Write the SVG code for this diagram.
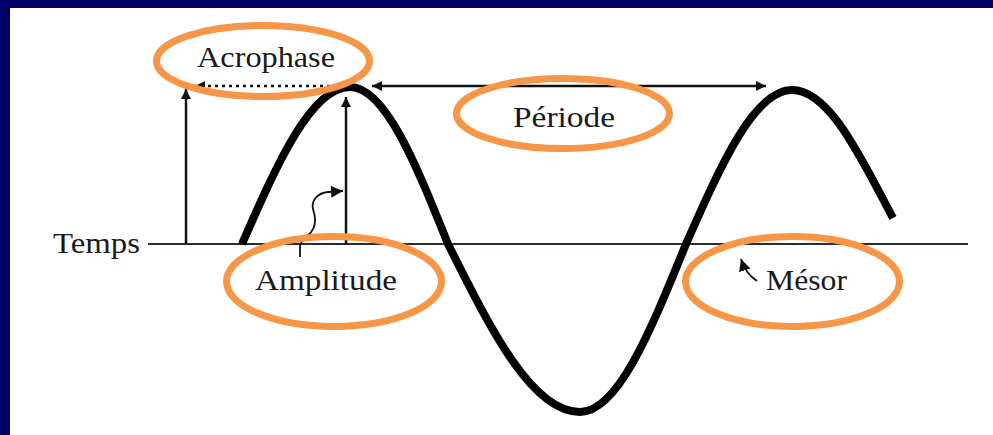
<svg xmlns="http://www.w3.org/2000/svg" width="993" height="435" viewBox="0 0 993 435">
<defs>
<style>
.lbl{font-family:"Liberation Serif","Times New Roman",serif;font-size:30px;fill:#1a1a1a}
.ring{fill:none;stroke:#F79646;stroke-width:7}
.ln{fill:none;stroke:#111;stroke-width:2.5}
.thin{fill:none;stroke:#111;stroke-width:1.8}
</style>
<marker id="ah" viewBox="0 0 10 10" refX="10" refY="5" markerWidth="10" markerHeight="10" markerUnits="userSpaceOnUse" orient="auto-start-reverse">
<path d="M0,0 L10,5 L0,10 Z" fill="#111"/>
</marker>
<marker id="ahs" viewBox="0 0 10 10" refX="10" refY="5" markerWidth="12" markerHeight="12" markerUnits="userSpaceOnUse" orient="auto">
<path d="M0,0 L10,5 L0,10 Z" fill="#111"/>
</marker>
</defs>
<rect x="0" y="0" width="993" height="435" fill="#fff"/>
<rect x="0" y="0" width="993" height="8" fill="#000066"/>
<rect x="0" y="0" width="10" height="435" fill="#000066"/>

<g id="temps">
<text class="lbl" x="53" y="253" textLength="87" lengthAdjust="spacingAndGlyphs">Temps</text>
<line x1="148" y1="244" x2="968" y2="244" stroke="#2a2a3a" stroke-width="2"/>
</g>

<g id="curve">
<path d="M242,244 C277,164 311,87 350,87 C385,87 416,164 448,244 C491,330 532,412 580,412 C618,412 651,330 686,244 C721,165 754,90 792,90 C830,90 862,160 893,218" fill="none" stroke="#000" stroke-width="8"/>
</g>

<g id="connectors">
<line class="ln" x1="186" y1="244" x2="186" y2="89" marker-end="url(#ah)"/>
<line class="ln" x1="346" y1="244" x2="346" y2="97" marker-end="url(#ah)"/>
<line x1="330" y1="86" x2="195" y2="86" stroke="#111" stroke-width="2.5" stroke-dasharray="3,4" marker-end="url(#ah)"/>
<line class="ln" x1="372" y1="86" x2="766" y2="86" marker-start="url(#ah)" marker-end="url(#ah)"/>
<path class="thin" d="M300,257 L300,246 C301,240 305,238 308,235 C317,228 316,218 313,209 C311,200 318,193 328,192 L343,191" marker-end="url(#ahs)"/>
<path class="thin" d="M757,281 C749,276 744,268 741,259" marker-end="url(#ahs)"/>
</g>

<g id="acrophase">
<ellipse class="ring" cx="263" cy="61" rx="106.5" ry="35.5"/>
<text class="lbl" x="197" y="67" textLength="138" lengthAdjust="spacingAndGlyphs">Acrophase</text>
</g>
<g id="periode">
<ellipse class="ring" cx="563" cy="113.5" rx="106.5" ry="35"/>
<text class="lbl" x="513" y="127" textLength="102" lengthAdjust="spacingAndGlyphs">Période</text>
</g>
<g id="amplitude">
<ellipse class="ring" cx="334" cy="281.5" rx="107.5" ry="45"/>
<text class="lbl" x="255" y="290" textLength="142" lengthAdjust="spacingAndGlyphs">Amplitude</text>
</g>
<g id="mesor">
<ellipse class="ring" cx="792.5" cy="281.5" rx="107" ry="45"/>
<text class="lbl" x="766" y="290" textLength="81" lengthAdjust="spacingAndGlyphs">Mésor</text>
</g>
</svg>
